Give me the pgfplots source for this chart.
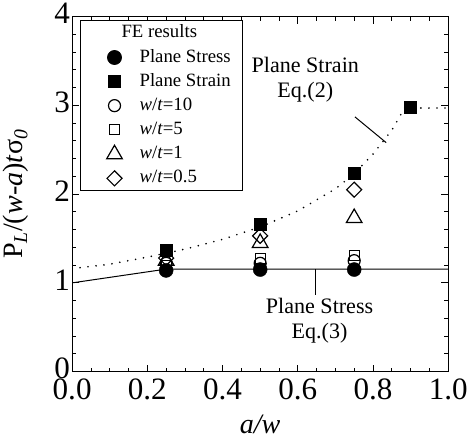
\documentclass[border=0pt]{standalone}
\usepackage{fontspec}
\setmainfont{Liberation Serif}
\usepackage{pgfplots}
\pgfplotsset{compat=1.18}
\begin{document}
\begin{tikzpicture}
\begin{axis}[
  scale only axis,
  width=375pt, height=354pt,
  xmin=0, xmax=1, ymin=0, ymax=4,
  xtick={0,0.2,0.4,0.6,0.8,1.0},
  ytick={0,1,2,3,4},
  minor x tick num=3,
  minor y tick num=4,
  tick align=inside,
  major tick length=7pt, minor tick length=4pt,
  tick style={black, line width=0.8pt},
  axis line style={line width=1pt},
  xticklabel style={/pgf/number format/fixed, /pgf/number format/fixed zerofill, /pgf/number format/precision=1, inner ysep=7pt},
  /pgf/number format/assume math mode=true,
  ticklabel style={font=\fontsize{31}{32}\selectfont},
  yticklabel style={inner xsep=2pt, yshift=3pt},
  xlabel={\textit{a/w}},
  ylabel={P\textsubscript{\textit{L}}/(\textit{w-a})\textit{t}σ\textsubscript{\textit{0}}},
  label style={font=\fontsize{28}{29}\selectfont},
  xlabel style={at={(axis description cs:0.5,-0.15)}, anchor=center},
  ylabel style={at={(axis description cs:-0.149,0.5)}, anchor=center},
  legend style={at={(axis description cs:0.021,0.989)}, anchor=north west,
    font=\fontsize{18.7}{20}\selectfont, draw=black, line width=0.8pt,
    row sep=7pt, column sep=0pt, inner xsep=12pt, inner ysep=4pt,
    nodes={inner sep=0pt, text height=13pt, text depth=4pt}},
  legend cell align=left,
  legend image code/.code={\path[draw=none, fill=none] (0pt,0pt) -- (47pt,0pt); \draw[#1, /tikz/only marks] plot coordinates {(22pt,0pt)};},
]
\addlegendimage{empty legend}
\addlegendentry{\hspace{-18pt}FE results}
% theory lines
\addplot[black, line width=1pt, forget plot] coordinates {(0,1.0) (0.25,1.155) (1.0,1.155)};
\addplot[black, line width=1.8pt, line cap=round, dash pattern=on 0pt off 8pt, forget plot] coordinates {
(0,1.16) (0.1,1.21) (0.2,1.29) (0.3,1.38) (0.4,1.49) (0.5,1.63) (0.6,1.81) (0.7,2.06) (0.75,2.23) (0.8,2.45) (0.85,2.72) (0.884,2.97) (1.0,2.97)};
% FE results
\addplot[only marks, mark=*, mark size=7pt, black] coordinates {(0.25,1.14) (0.5,1.15) (0.75,1.15)};
\addlegendentry{Plane Stress}
\addplot[only marks, mark=square*, mark size=6pt, black] coordinates {(0.25,1.37) (0.5,1.66) (0.75,2.24) (0.9,2.98)};
\addlegendentry{Plane Strain}
\addplot[only marks, mark=o, mark size=6pt, black, line width=1.2pt, mark options={fill=white}] coordinates {(0.25,1.22) (0.5,1.22) (0.75,1.25)};
\addlegendentry{\textit{w}/\textit{t}=10}
\addplot[only marks, mark=square, mark size=5pt, black, line width=1.2pt, mark options={fill=white}] coordinates {(0.25,1.20) (0.5,1.27) (0.75,1.31)};
\addlegendentry{\textit{w}/\textit{t}=5}
\addplot[only marks, mark=triangle, mark size=9pt, black, line width=1.2pt, mark options={fill=white}] coordinates {(0.25,1.25) (0.5,1.45) (0.75,1.73)};
\addlegendentry{\textit{w}/\textit{t}=1}
\addplot[only marks, mark=square, mark size=5.3pt, black, line width=1.2pt, mark options={fill=white, rotate=45}] coordinates {(0.25,1.28) (0.5,1.53) (0.75,2.05)};
\addlegendentry{\textit{w}/\textit{t}=0.5}
% annotations
\node[font=\fontsize{22}{25}\selectfont, align=center] at (axis cs:0.62,3.29) {Plane Strain\\Eq.(2)};
\draw[line width=1pt] (axis cs:0.752,2.87) -- (axis cs:0.835,2.58);
\node[font=\fontsize{22}{25}\selectfont, align=center] at (axis cs:0.658,0.57) {Plane Stress\\Eq.(3)};
\draw[line width=1pt] (axis cs:0.646,1.155) -- (axis cs:0.646,0.86);
\path (rel axis cs:-0.208,-0.206) rectangle (rel axis cs:1.048,1.051);
\end{axis}
\end{tikzpicture}
\end{document}
